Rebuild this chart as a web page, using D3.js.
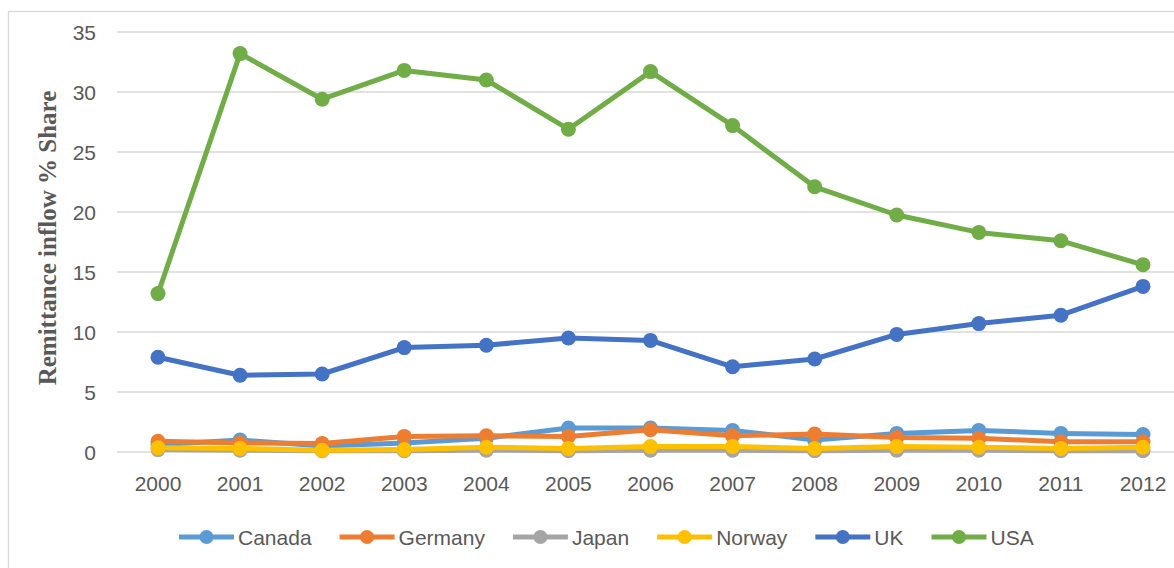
<!DOCTYPE html>
<html lang="en">
<head>
  <meta charset="utf-8">
  <title>Remittance inflow share</title>
  <script src="https://d3js.org/d3.v7.min.js"></script>
  <style>
  body{ margin:0; background:#fff; }
  .tick-label{ font-family:"Liberation Sans", Arial, sans-serif; font-size:21px; fill:#595959; }
  .grid{ stroke:#d9d9d9; stroke-width:1.3; }
  </style>
</head>
<body>
<script>
var years = ["2000","2001","2002","2003","2004","2005","2006","2007","2008","2009","2010","2011","2012"];
var yTicks = [0,5,10,15,20,25,30,35];

var canada  = [0.6, 1.0, 0.5, 0.75, 1.15, 2.0, 2.0, 1.8, 1.0, 1.55, 1.8, 1.55, 1.45];
var germany = [0.9, 0.75, 0.7, 1.3, 1.35, 1.3, 1.85, 1.35, 1.5, 1.2, 1.15, 0.85, 0.85];
var japan   = [0.2, 0.15, 0.1, 0.1, 0.15, 0.1, 0.15, 0.15, 0.1, 0.15, 0.15, 0.1, 0.1];
var norway  = [0.35, 0.3, 0.15, 0.2, 0.4, 0.3, 0.45, 0.45, 0.3, 0.45, 0.4, 0.3, 0.4];
var uk      = [7.9, 6.4, 6.5, 8.7, 8.9, 9.5, 9.3, 7.1, 7.75, 9.8, 10.7, 11.4, 13.8];
var usa     = [13.2, 33.2, 29.4, 31.8, 31.0, 26.9, 31.7, 27.2, 22.1, 19.75, 18.3, 17.6, 15.6];

var seriesNames  = ["Canada","Germany","Japan","Norway","UK","USA"];
var seriesValues = [canada, germany, japan, norway, uk, usa];
var seriesColors = ["#5B9BD5","#ED7D31","#A5A5A5","#FFC000","#4472C4","#70AD47"];

var width = 1174, height = 568;
var svg = d3.select("body").append("svg")
  .attr("width", width)
  .attr("height", height);

// chart frame
svg.append("rect")
  .attr("x", 8.5).attr("y", 11.5)
  .attr("width", 1300).attr("height", 700)
  .attr("fill", "none").attr("stroke", "#d9d9d9").attr("stroke-width", 1.3);

var x = d3.scalePoint().domain(years).range([158, 1143]);
var y = d3.scaleLinear().domain([0, 35]).range([452, 32]);

// gridlines
svg.append("g").selectAll("line")
  .data(yTicks)
  .enter().append("line")
  .attr("class", "grid")
  .attr("x1", 117).attr("x2", 1190)
  .attr("y1", function(d){ return y(d); })
  .attr("y2", function(d){ return y(d); });

// y tick labels
svg.append("g").selectAll("text")
  .data(yTicks)
  .enter().append("text")
  .attr("class", "tick-label")
  .attr("x", 96)
  .attr("y", function(d){ return y(d); })
  .attr("dy", "0.36em")
  .attr("text-anchor", "end")
  .text(function(d){ return d; });

// x tick labels
svg.append("g").selectAll("text")
  .data(years)
  .enter().append("text")
  .attr("class", "tick-label")
  .attr("x", function(d){ return x(d); })
  .attr("y", 491)
  .attr("text-anchor", "middle")
  .text(function(d){ return d; });

// y axis title
svg.append("text")
  .attr("transform", "translate(56,238) rotate(-90)")
  .attr("text-anchor", "middle")
  .style("font-family", "'Liberation Serif', 'Times New Roman', serif")
  .style("font-weight", "bold")
  .style("font-size", "25px")
  .style("fill", "#595959")
  .text("Remittance inflow % Share");

var line = d3.line()
  .x(function(d, i){ return x(years[i]); })
  .y(function(d){ return y(d); });

var plot = svg.append("g");
seriesValues.forEach(function(vals, k){
  var g = plot.append("g");
  g.append("path")
    .datum(vals)
    .attr("fill", "none")
    .attr("stroke", seriesColors[k])
    .attr("stroke-width", 5)
    .attr("stroke-linejoin", "round")
    .attr("d", line);
  g.selectAll("circle")
    .data(vals)
    .enter().append("circle")
    .attr("cx", function(d, i){ return x(years[i]); })
    .attr("cy", function(d){ return y(d); })
    .attr("r", 7.5)
    .attr("fill", seriesColors[k]);
});

// legend
var legend = svg.append("g");
var lx = 179, ly = 537;
seriesNames.forEach(function(name, k){
  var item = legend.append("g").attr("transform", "translate(" + lx + "," + ly + ")");
  item.append("line")
    .attr("x1", 0).attr("x2", 55)
    .attr("stroke", seriesColors[k]).attr("stroke-width", 5);
  item.append("circle")
    .attr("cx", 27.5).attr("r", 7)
    .attr("fill", seriesColors[k]);
  var t = item.append("text")
    .attr("class", "tick-label")
    .attr("x", 59)
    .attr("dy", "0.36em")
    .text(name);
  lx += 59 + t.node().getComputedTextLength() + 28;
});
</script>
</body>
</html>
